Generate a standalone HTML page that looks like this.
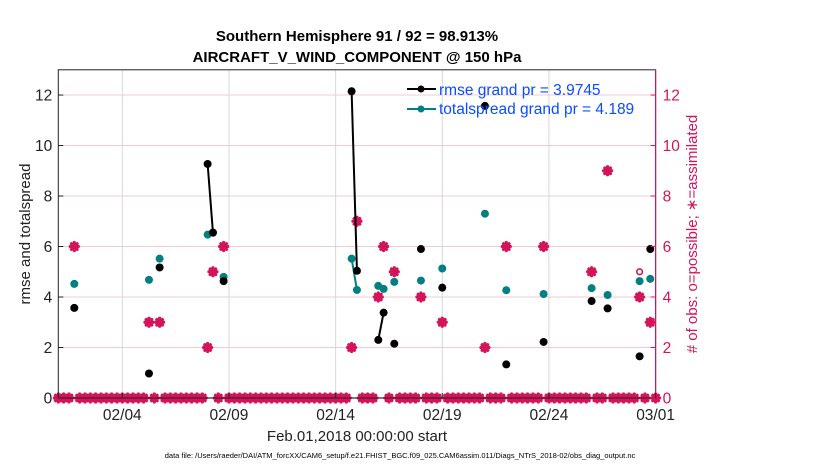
<!DOCTYPE html>
<html><head><meta charset="utf-8">
<style>
body{margin:0;background:#fff;}
svg{display:block;font-family:"Liberation Sans",Arial,sans-serif;}
</style></head>
<body>
<svg id="chart" width="830" height="470" viewBox="0 0 830 470">
<text x="357" y="41" text-anchor="middle" font-size="15" font-weight="bold">Southern Hemisphere 91 / 92 = 98.913%</text>
<text x="357" y="62" text-anchor="middle" font-size="15" font-weight="bold">AIRCRAFT_V_WIND_COMPONENT @ 150 hPa</text>
<g id="grid"></g>
<g id="marks"></g>
<rect x="58.3" y="69.8" width="597.3" height="328.2" fill="none" stroke="#222" stroke-width="1"/>
<line x1="655.6" y1="69.8" x2="655.6" y2="398" stroke="#d4145a" stroke-width="1.2"/>
<g id="axes"></g>
<text transform="translate(30,234) rotate(-90)" text-anchor="middle" font-size="15" fill="#222">rmse and totalspread</text>
<text transform="translate(697,234) rotate(-90)" text-anchor="middle" font-size="15" fill="#d4145a"># of obs: o=possible; ∗=assimilated</text>
<text x="357" y="441" text-anchor="middle" font-size="15" fill="#222">Feb.01,2018 00:00:00 start</text>
<text x="400" y="458" text-anchor="middle" font-size="7.5" fill="#000">data file: /Users/raeder/DAI/ATM_forcXX/CAM6_setup/f.e21.FHIST_BGC.f09_025.CAM6assim.011/Diags_NTrS_2018-02/obs_diag_output.nc</text>
<g id="legend">
<line x1="407" y1="89" x2="436" y2="89" stroke="#000" stroke-width="2"/>
<circle cx="421" cy="89" r="3.5" fill="#000"/>
<text x="439" y="95" font-size="15.5" fill="#0a4cff">rmse grand pr = 3.9745</text>
<line x1="407" y1="109" x2="436" y2="109" stroke="#008080" stroke-width="2"/>
<circle cx="421" cy="109" r="3.5" fill="#008080"/>
<text x="439" y="114" font-size="15.5" fill="#0a4cff">totalspread grand pr = 4.189</text>
</g>
</svg>
<script>
const days = [0.75,4.25,4.75,7.0,7.25,7.75,13.75,14.0,15.0,15.25,15.75,17.0,18.0,20.0,21.0,22.75,25.0,25.75,27.25,27.75];
const rmse = [3.57,0.97,5.17,9.27,6.55,4.63,12.15,5.04,2.3,3.38,2.15,5.9,4.37,11.57,1.33,2.22,3.84,3.55,1.65,5.9];
const spread = [4.52,4.68,5.52,6.47,6.55,4.8,5.52,4.28,4.44,4.32,4.6,4.65,5.13,7.3,4.27,4.12,4.35,4.08,4.63,4.72];
const nAssim = [6,3,3,2,5,6,2,7,4,6,5,4,3,2,6,6,5,9,4,3];
const nPossible = [6,3,3,2,5,6,2,7,4,6,5,4,3,2,6,6,5,9,5,3];
const xTickDays = [3,8,13,18,23,28];
const xTickLabels = ["02/04","02/09","02/14","02/19","02/24","03/01"];
const yTicks = [0,2,4,6,8,10,12];

const NS="http://www.w3.org/2000/svg";
const X0=58.3,X1=655.6,Y0=398,Y1=69.8,DMAX=28,VMAX=13;
const x=d=>X0+(X1-X0)*d/DMAX;
const y=v=>Y0-(Y0-Y1)*v/VMAX;
function mk(tag,attrs,parent){const e=document.createElementNS(NS,tag);for(const k in attrs)e.setAttribute(k,attrs[k]);parent.appendChild(e);return e;}
const grid=document.getElementById('grid'),marks=document.getElementById('marks'),axes=document.getElementById('axes');
const RED="#d4145a";
yTicks.forEach(t=>{
  if(t>0){const l=mk('line',{x1:X0,x2:X1,y1:y(t),y2:y(t),stroke:"#f0c8d8","stroke-width":1},grid);
  
  }
  const a=mk('text',{x:X0-6,y:y(t)+5.5,"text-anchor":"end","font-size":15.5,fill:"#222"},axes);a.textContent=t;
  
  
  const b=mk('text',{x:X1+7,y:y(t)+5.5,"font-size":15.5,fill:RED},axes);b.textContent=t;
  
  
  mk('line',{x1:X0,x2:X0+5,y1:y(t),y2:y(t),stroke:"#222"},axes);
  mk('line',{x1:X1-5,x2:X1,y1:y(t),y2:y(t),stroke:RED},axes);
});
xTickDays.forEach((d,i)=>{
  if(d<DMAX){const g=mk('line',{x1:x(d),x2:x(d),y1:Y1,y2:Y0,stroke:"#d8d8d8","stroke-width":1},grid);
  
  }
  mk('line',{x1:x(d),x2:x(d),y1:Y0,y2:Y0-5,stroke:"#222"},axes);
  const t=mk('text',{x:x(d),y:420,"text-anchor":"middle","font-size":15.5,fill:"#222"},axes);t.textContent=xTickLabels[i];
  
  
});
function star(cx,cy){
  const g=mk('g',{stroke:RED,"stroke-width":3.2,"stroke-linecap":"round"},marks);
  
  
  const r=4;
  mk('line',{x1:cx-r,x2:cx+r,y1:cy,y2:cy},g);
  mk('line',{x1:cx,x2:cx,y1:cy-r,y2:cy+r},g);
  mk('line',{x1:cx-r*.7,x2:cx+r*.7,y1:cy-r*.7,y2:cy+r*.7},g);
  mk('line',{x1:cx-r*.7,x2:cx+r*.7,y1:cy+r*.7,y2:cy-r*.7},g);
}
const zl=mk('line',{x1:X0,x2:X1,y1:Y0,y2:Y0,stroke:RED,"stroke-width":1.2},marks);


for(let k=0;k<=DMAX*4;k++){const d=k/4;if(days.some(v=>Math.abs(v-d)<1e-6))continue;star(x(d),y(0));}
days.forEach((d,i)=>{
  if(nPossible[i]!==nAssim[i]){const c=mk('circle',{cx:x(d),cy:y(nPossible[i]),r:2.8,fill:"none",stroke:RED,"stroke-width":1.6},marks);
  
  }
  star(x(d),y(nAssim[i]));
});
function series(vals,color,name){
  for(let i=1;i<days.length;i++){
    if(Math.abs(days[i]-days[i-1]-0.25)<1e-6){
      const l=mk('line',{x1:x(days[i-1]),y1:y(vals[i-1]),x2:x(days[i]),y2:y(vals[i]),stroke:color,"stroke-width":2},marks);
      
      
    }
  }
  days.forEach((d,i)=>{
    const c=mk('circle',{cx:x(d),cy:y(vals[i]),r:4,fill:color},marks);
    
    
  });
}
series(spread,"#008080","totalspread");
series(rmse,"#000","rmse");
</script>
</body></html>
